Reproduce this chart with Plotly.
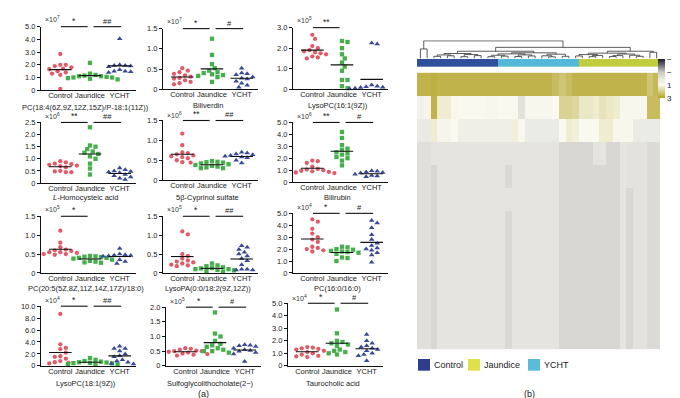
import plotly.graph_objects as go
import numpy as np

W, H = 680, 398
FONT = "Liberation Sans, Arial, sans-serif"

groups = ["Control", "Jaundice", "YCHT"]
group_colors = ["#e25a66", "#46ae4c", "#3b4a98"]
group_symbols = ["circle", "square", "triangle-up"]

titles = ["PC(18:4(6Z,9Z,12Z,15Z)/P-18:1(11Z))", "Biliverdin", "LysoPC(16:1(9Z))",
          "<i>L</i>-Homocysteic acid", "5β-Cyprinol sulfate", "Bilirubin",
          "PC(20:5(5Z,8Z,11Z,14Z,17Z)/18:0)", "LysoPA(0:0/18:2(9Z,12Z))", "PC(16:0/16:0)",
          "LysoPC(18:1(9Z))", "Sulfoglycolithocholate(2−)", "Taurocholic acid"]
exponents = [7, 7, 5, 6, 6, 6, 5, 5, 4, 4, 5, 4]
y_tops = [5.0, 1.5, 3.0, 2.5, 1.5, 5.0, 1.5, 1.5, 5.0, 10.0, 2.0, 5.0]
y_steps = [1.0, 0.5, 1.0, 0.5, 0.5, 1.0, 0.5, 0.5, 1.0, 2.0, 0.5, 1.0]
sig_cj = ["*", "*", "**", "**", "**", "**", "*", "*", "*", "*", "*", "*"]
sig_jy = ["##", "#", "", "##", "##", "#", "", "##", "#", "##", "#", "#"]

control_values = [
    [2.85, 2.0, 2.0, 1.9, 1.8, 1.7, 1.65, 1.5, 1.4, 1.3, 1.2, 0.1],
    [0.52, 0.46, 0.42, 0.38, 0.34, 0.31, 0.28, 0.26, 0.22, 0.18, 0.15, 0.12],
    [2.65, 2.45, 2.1, 2.0, 1.9, 1.85, 1.8, 1.75, 1.7, 1.6, 1.55, 1.5],
    [0.9, 0.85, 0.8, 0.78, 0.75, 0.72, 0.7, 0.65, 0.5, 0.48, 0.45, 0.45],
    [1.17, 0.88, 0.7, 0.68, 0.65, 0.62, 0.6, 0.58, 0.55, 0.5, 0.45, 0.44],
    [1.8, 1.75, 1.6, 1.3, 1.1, 1.05, 1.0, 0.95, 0.9, 0.85, 0.8, 0.75],
    [1.12, 0.8, 0.68, 0.62, 0.6, 0.58, 0.55, 0.55, 0.53, 0.5, 0.5, 0.48],
    [1.1, 1.02, 0.5, 0.45, 0.38, 0.33, 0.3, 0.28, 0.25, 0.22, 0.2, 0.18],
    [4.5, 4.3, 3.7, 3.3, 3.0, 2.8, 2.6, 2.2, 2.1, 2.0, 1.9, 1.8],
    [8.7, 3.6, 3.0, 2.8, 2.2, 1.6, 1.5, 1.2, 0.8, 0.6, 0.5, 0.4],
    [0.6, 0.58, 0.55, 0.52, 0.5, 0.5, 0.48, 0.45, 0.42, 0.4, 0.38, 0.35],
    [1.5, 1.45, 1.4, 1.35, 1.3, 1.2, 1.1, 1.0, 0.9, 0.8, 0.75, 0.7],
]
jaundice_values = [
    [2.15, 1.3, 1.2, 1.15, 1.1, 1.1, 1.05, 1.0, 1.0, 0.95, 0.9, 0.85],
    [1.25, 0.85, 0.62, 0.52, 0.46, 0.42, 0.4, 0.37, 0.35, 0.33, 0.3, 0.18],
    [2.35, 2.3, 2.0, 1.7, 1.5, 1.3, 1.1, 0.9, 0.45, 0.45, 0.15, 0.05],
    [2.3, 1.55, 1.5, 1.4, 1.3, 1.25, 1.2, 1.1, 1.0, 0.8, 0.6, 0.35],
    [0.48, 0.46, 0.45, 0.44, 0.42, 0.4, 0.38, 0.36, 0.34, 0.32, 0.3, 0.3],
    [4.2, 3.7, 3.1, 2.8, 2.7, 2.5, 2.4, 2.3, 2.1, 2.0, 1.8, 1.4],
    [0.45, 0.44, 0.43, 0.42, 0.4, 0.4, 0.38, 0.35, 0.32, 0.3, 0.28, 0.27],
    [0.25, 0.2, 0.18, 0.15, 0.13, 0.12, 0.1, 0.1, 0.08, 0.07, 0.05, 0.03],
    [2.2, 2.15, 2.0, 1.95, 1.85, 1.8, 1.75, 1.7, 1.6, 1.3, 1.25, 1.0],
    [1.3, 1.0, 0.8, 0.7, 0.6, 0.55, 0.5, 0.45, 0.4, 0.3, 0.25, 0.2],
    [1.82, 1.1, 1.0, 0.85, 0.75, 0.7, 0.65, 0.6, 0.55, 0.5, 0.5, 0.45],
    [4.5, 2.6, 2.0, 1.9, 1.8, 1.7, 1.6, 1.3, 1.2, 1.1, 1.0, 0.9],
]
ycht_values = [
    [4.05, 2.0, 1.95, 1.95, 1.9, 1.85, 1.8, 1.6, 1.5, 1.5, 1.45, 1.4],
    [0.52, 0.4, 0.38, 0.36, 0.3, 0.27, 0.25, 0.2, 0.15, 0.1, 0.05],
    [2.25, 2.2, 0.2, 0.15, 0.12, 0.1, 0.08, 0.06, 0.05, 0.03, 0.02],
    [0.62, 0.55, 0.5, 0.48, 0.46, 0.44, 0.42, 0.35, 0.3, 0.25, 0.2, 0.15],
    [0.7, 0.68, 0.66, 0.64, 0.62, 0.6, 0.6, 0.58, 0.56, 0.55, 0.5, 0.43],
    [0.95, 0.9, 0.85, 0.8, 0.75, 0.7, 0.65, 0.6, 0.55, 0.5, 0.45],
    [0.65, 0.5, 0.48, 0.47, 0.46, 0.45, 0.45, 0.44, 0.42, 0.35, 0.3, 0.25],
    [0.72, 0.68, 0.62, 0.55, 0.5, 0.45, 0.38, 0.32, 0.22, 0.1, 0.1, 0.08, 0.08],
    [4.4, 4.2, 3.8, 3.2, 2.8, 2.5, 2.3, 2.1, 2.0, 1.9, 1.7, 1.5, 0.9],
    [3.3, 2.9, 2.9, 2.5, 2.0, 1.7, 1.5, 1.0, 0.8, 0.6, 0.4, 0.3],
    [0.72, 0.7, 0.68, 0.66, 0.6, 0.55, 0.52, 0.5, 0.45, 0.4, 0.15],
    [2.5, 2.0, 1.8, 1.6, 1.5, 1.4, 1.3, 1.2, 1.0, 0.9, 0.8, 0.4],
]

# heatmap (b): 12 metabolites x 36 samples (Control 0-11, YCHT 12-23, Jaundice 24-35)
heat_values = [
    [2.6, 2.6, 2.7, 2.6, 2.6, 2.6, 2.6, 2.6, 2.6, 2.6, 2.6, 2.6, 2.6, 2.6, 2.6, 2.6, 2.6, 2.6,
     2.6, 2.6, 2.4, 2.2, 2.4, 2.6, 2.6, 2.6, 2.6, 2.6, 2.6, 2.6, 2.6, 2.6, 2.6, 2.6, 2.2, 2.5],
    [0.6, 0.8, 2.6, 1.3, 1.3, 0.9, 1.0, 1.0, 1.0, 1.0, 0.9, 0.9, 1.0, 1.0, 0.9, -0.2, 0.9, 0.9,
     0.9, 0.9, 1.0, 1.9, 1.9, 1.8, 1.4, 1.4, 1.3, 1.5, 1.4, 1.3, 0.9, 0.9, 0.9, 0.9, 2.4, 2.4],
    [0.1, 0.1, 1.3, 0.8, 0.8, 1.0, 0.4, 0.4, 0.4, 0.4, 0.4, 0.4, 0.4, 0.4, 1.2, 0.9, 0.2, 0.2,
     0.2, 0.2, 0.2, 1.0, 1.3, 1.2, 1.0, 1.0, 1.0, 1.3, 1.3, 0.9, 0.9, 0.9, 0.2, 0.2, 0.2, 0.2],
    [-0.25, -0.25, -0.1, -0.1, -0.1, -0.1, -0.1, -0.1, -0.1, -0.1, -0.1, -0.1, -0.1, -0.1, -0.1, -0.1, -0.1, -0.1,
     -0.1, -0.1, -0.1, -0.5, -0.5, -0.5, -0.5, -0.5, -0.1, -0.1, -0.5, -0.5, -0.05, -0.15, -0.15, -0.15, -0.4, -0.4],
    [-0.25, -0.25, -0.5, -0.1, -0.1, -0.1, -0.1, -0.1, -0.1, -0.1, -0.1, -0.1, -0.1, -0.45, -0.1, -0.1, -0.1, -0.1,
     -0.1, -0.1, -0.1, -0.5, -0.5, -0.5, -0.5, -0.5, -0.5, -0.5, -0.5, -0.5, -0.05, -0.15, -0.15, -0.15, -0.4, -0.4],
    [-0.25, -0.25, -0.5, -0.1, -0.1, -0.1, -0.1, -0.1, -0.1, -0.1, -0.1, -0.1, -0.1, -0.1, -0.1, -0.1, -0.1, -0.1,
     -0.1, -0.1, -0.1, -0.5, -0.5, -0.5, -0.5, -0.5, -0.5, -0.5, -0.5, -0.5, -0.05, -0.5, -0.15, -0.15, -0.4, -0.4],
    [-0.25, -0.25, -0.5, -0.1, -0.1, -0.1, -0.1, -0.1, -0.1, -0.1, -0.1, -0.1, -0.1, -0.45, -0.1, -0.1, -0.1, -0.1,
     -0.1, -0.1, -0.1, -0.5, -0.5, -0.5, -0.5, -0.5, -0.5, -0.5, -0.5, -0.5, -0.05, -0.5, -0.15, -0.15, -0.4, -0.4],
    [-0.25, -0.25, -0.5, -0.1, -0.1, -0.1, -0.1, -0.1, -0.1, -0.1, -0.1, -0.1, -0.1, -0.45, -0.1, -0.1, -0.1, -0.1,
     -0.1, -0.1, -0.1, -0.5, -0.5, -0.5, -0.5, -0.5, -0.5, -0.5, -0.5, -0.5, -0.05, -0.5, -0.15, -0.15, -0.4, -0.4],
    [-0.25, -0.25, -0.5, -0.1, -0.1, -0.1, -0.1, -0.1, -0.1, -0.1, -0.1, -0.1, -0.1, -0.45, -0.1, -0.1, -0.1, -0.1,
     -0.1, -0.1, -0.1, -0.5, -0.5, -0.5, -0.5, -0.5, -0.5, -0.5, -0.5, -0.5, -0.05, -0.5, -0.15, -0.15, -0.4, -0.4],
    [-0.25, -0.25, -0.5, -0.1, -0.1, -0.1, -0.1, -0.1, -0.1, -0.1, -0.1, -0.1, -0.1, -0.45, -0.1, -0.1, -0.1, -0.1,
     -0.1, -0.1, -0.1, -0.5, -0.5, -0.5, -0.5, -0.5, -0.5, -0.5, -0.5, -0.5, -0.05, -0.5, -0.15, -0.15, -0.4, -0.4],
    [-0.25, -0.25, -0.5, -0.1, -0.1, -0.1, -0.1, -0.1, -0.1, -0.1, -0.1, -0.1, -0.1, -0.45, -0.1, -0.1, -0.1, -0.1,
     -0.1, -0.1, -0.1, -0.5, -0.5, -0.5, -0.5, -0.5, -0.5, -0.5, -0.5, -0.5, -0.05, -0.5, -0.15, -0.15, -0.4, -0.4],
    [-0.25, -0.25, -0.5, -0.1, -0.1, -0.1, -0.1, -0.1, -0.1, -0.1, -0.1, -0.1, -0.1, -0.45, -0.1, -0.1, -0.1, -0.1,
     -0.1, -0.1, -0.1, -0.5, -0.5, -0.5, -0.5, -0.5, -0.5, -0.5, -0.5, -0.5, -0.05, -0.5, -0.15, -0.15, -0.4, -0.4],
]
sample_groups = [0] * 12 + [2] * 12 + [1] * 12   # 0 Control, 1 Jaundice, 2 YCHT
annot_colors = ["#30509c", "#bfcd3e", "#55b8d9"]
legend_colors = ["#2e3d8e", "#dde14c", "#5bbcd9"]

# dendrogram: [height, left, right], leaves are sample indices
dendro_tree = [10, [5.4, 0, 1],
               [6.3,
                [4.1,
                 [2.8, [2.0, [1.2, 2, 3], [1.5, 4, 5]], [2.2, [1.0, 6, 7], [1.6, 8, 9]]],
                 [3.2, [2.6, [1.8, [1.0, 10, 11], [1.3, 12, 13]], [2.0, [1.1, 14, 15], [1.4, 16, 17]]],
                  [2.4, [1.5, 18, [0.9, 19, 20]], [1.2, 21, 22]]]],
                [4.1,
                 [3.0, [2.2, [1.4, 23, 24], [1.7, [1.0, 25, 26], 27]],
                  [2.5, [1.6, [1.1, 28, 29], 30], [1.8, 31, [1.2, 32, 33]]]],
                 [3.5, 34, 35]]]]

# ---------- layout geometry (pixels) ----------
panels_px = [(33, 128, 15, 80), (155, 250, 17, 79), (285, 380, 16, 79),
             (33, 128, 113, 175), (155, 250, 111, 172), (285, 380, 113, 174),
             (33, 128, 209, 267), (155, 250, 209, 267), (285, 380, 206, 267),
             (33, 128, 301, 362), (158, 253, 302, 362), (280, 375, 298, 362)]
title_y_px = [98, 96, 96, 190, 190, 190, 283, 283, 283, 380, 380, 380]
mult_dy = [8, 8, 8, 7, 6, 7, 7, 7, 7, 6, 6, 5]
XMIN, XMAX = -0.65, 2.55


def px_x(p):
    return p / W


def px_y(p):
    return 1 - p / H


def swarm_offsets(vals, py, px, diam=4.6):
    vals = np.asarray(vals, dtype=float)
    order = np.argsort(-vals)
    placed = []
    offs = np.zeros(len(vals))
    step = diam * 0.6
    for i in order:
        yy = vals[i] * py
        k = 0
        while True:
            cand = 0 if k == 0 else ((k + 1) // 2) * step * (1 if k % 2 else -1)
            if all((cand - dx) ** 2 + (yy - dy) ** 2 >= diam ** 2 for dx, dy in placed):
                break
            k += 1
        placed.append((cand, yy))
        offs[i] = cand / px
    return offs


fig = go.Figure()
layout = {}
annotations = []
shapes = []
tickfont = dict(family=FONT, size=7.5, color="#222")

for k in range(12):
    n = k + 1
    xa = "x" if n == 1 else f"x{n}"
    ya = "y" if n == 1 else f"y{n}"
    L, R, T, B = panels_px[k]
    top = y_tops[k]
    py = (B - T) / top
    pxu = (R - L) / (XMAX - XMIN)
    series = [control_values[k], jaundice_values[k], ycht_values[k]]
    for g, vals in enumerate(series):
        offs = swarm_offsets(vals, py, pxu)
        fig.add_trace(go.Scatter(
            x=g + offs, y=vals, mode="markers", xaxis=xa, yaxis=ya, showlegend=False,
            cliponaxis=False,
            marker=dict(symbol=group_symbols[g], size=4.3 if g < 2 else 5,
                        color=group_colors[g], line=dict(width=0))))
        m = float(np.mean(vals))
        fig.add_trace(go.Scatter(
            x=[g - 0.38, g + 0.38], y=[m, m], mode="lines", xaxis=xa, yaxis=ya,
            showlegend=False, line=dict(color="#111", width=1.1)))
    ticks = list(np.arange(0, top + 1e-9, y_steps[k]))
    ticktext = ["0" if t == 0 else f"{t:.1f}" for t in ticks]
    layout["xaxis" if n == 1 else f"xaxis{n}"] = dict(
        domain=[px_x(L), px_x(R)], anchor=ya, range=[XMIN, XMAX],
        tickvals=[0, 1, 2], ticktext=groups, tickangle=0, showline=True, linecolor="#111",
        linewidth=1, showgrid=False, zeroline=False, ticks="", tickfont=tickfont,
        ticklabelstandoff=-2)
    layout["yaxis" if n == 1 else f"yaxis{n}"] = dict(
        domain=[px_y(B), px_y(T)], anchor=xa, range=[0, top],
        tickvals=ticks, ticktext=ticktext, showline=True, linecolor="#111",
        linewidth=1, showgrid=False, zeroline=False, ticks="outside", ticklen=3,
        tickcolor="#111", tickfont=tickfont)
    # multiplier
    annotations.append(dict(text=f"×10<sup>{exponents[k]}</sup>", xref="paper", yref="paper",
                            x=px_x(L + 2), y=px_y(T - mult_dy[k]), xanchor="left",
                            yanchor="middle", showarrow=False,
                            font=dict(family=FONT, size=7, color="#333")))
    # title
    annotations.append(dict(text=titles[k], xref="paper", yref="paper",
                            x=px_x((L + R) / 2 - 3), y=px_y(title_y_px[k]),
                            xanchor="center", yanchor="middle", showarrow=False,
                            font=dict(family=FONT, size=7.5, color="#222")))

    # significance bars
    def fx(c):
        return (c - XMIN) / (XMAX - XMIN)
    for (c0, c1, sym) in [(0.02, 0.92, sig_cj[k]), (1.12, 2.05, sig_jy[k])]:
        if not sym:
            continue
        shapes.append(dict(type="line", xref=f"{xa} domain", yref=f"{ya} domain",
                           x0=fx(c0), x1=fx(c1), y0=1.0, y1=1.0,
                           line=dict(color="#111", width=1.1)))
        annotations.append(dict(text=sym, xref=f"{xa} domain", yref=f"{ya} domain",
                                x=fx((c0 + c1) / 2), y=1.0, xanchor="center",
                                yanchor="bottom", showarrow=False, yshift=-1,
                                font=dict(family=FONT, size=7.5 if "#" in sym else 8.5,
                                          color="#222")))

# ---------- heatmap (b) ----------
HL, HR, HT, HB = 409, 652, 62, 345
n_cols = len(heat_values[0])
neg = [[-v for v in row] for row in heat_values]
fig.add_trace(go.Heatmap(
    z=neg, x=list(range(n_cols)), y=list(range(len(heat_values))),
    xaxis="x13", yaxis="y13", zmin=-3, zmax=3,
    colorscale=[[0, "#b3a223"], [0.3333, "#f9f9ef"], [0.5, "#e8e7e2"],
                [0.6667, "#c8c7c3"], [1, "#1d1a2b"]],
    colorbar=dict(x=px_x(650), xanchor="left", y=px_y(48), yanchor="top",
                  lenmode="pixels", len=39, thicknessmode="pixels", thickness=7,
                  outlinewidth=0, ticks="", tickvals=[3, 1, -1, -3],
                  ticktext=["−3", "−1", "1", "3"], xpad=0, ypad=0,
                  tickfont=dict(family=FONT, size=8, color="#222"))))
layout["xaxis13"] = dict(domain=[px_x(HL), px_x(HR)], anchor="y13", range=[-0.5, n_cols - 0.5],
                         visible=False)
layout["yaxis13"] = dict(domain=[px_y(HB), px_y(HT)], anchor="x13",
                         range=[len(heat_values) - 0.5, -0.5], visible=False)

# group annotation bar
fig.add_trace(go.Heatmap(
    z=[sample_groups], x=list(range(n_cols)), y=[0], xaxis="x14", yaxis="y14",
    zmin=-0.5, zmax=2.5, showscale=False,
    colorscale=[[0, annot_colors[0]], [0.3333, annot_colors[0]], [0.3334, annot_colors[1]],
                [0.6666, annot_colors[1]], [0.6667, annot_colors[2]], [1, annot_colors[2]]]))
layout["xaxis14"] = dict(domain=[px_x(HL), px_x(HR)], anchor="y14", range=[-0.5, n_cols - 0.5],
                         visible=False)
layout["yaxis14"] = dict(domain=[px_y(56), px_y(48)], anchor="x14", range=[-0.5, 0.5],
                         visible=False)

# dendrogram
seg_x, seg_y = [], []


def draw_node(node):
    if isinstance(node, int):
        return float(node), 0.0
    h, left, right = node
    xl, hl = draw_node(left)
    xr, hr = draw_node(right)
    seg_x.extend([xl, xl, xr, xr, None])
    seg_y.extend([hl, h, h, hr, None])
    return (xl + xr) / 2, h


draw_node(dendro_tree)
fig.add_trace(go.Scatter(x=seg_x, y=seg_y, mode="lines", xaxis="x15", yaxis="y15",
                         showlegend=False, line=dict(color="#333", width=0.8)))
layout["xaxis15"] = dict(domain=[px_x(HL), px_x(HR)], anchor="y15", range=[-0.5, n_cols - 0.5],
                         visible=False)
layout["yaxis15"] = dict(domain=[px_y(47.5), px_y(29)], anchor="x15", range=[0, 10.3],
                         visible=False)

# legend for (b)
leg_x = [410, 460, 520]
for g in range(3):
    shapes.append(dict(type="rect", xref="paper", yref="paper",
                       x0=px_x(leg_x[g]), x1=px_x(leg_x[g] + 12),
                       y0=px_y(367), y1=px_y(355), fillcolor=legend_colors[g],
                       line=dict(width=0)))
    annotations.append(dict(text=groups[g], xref="paper", yref="paper",
                            x=px_x(leg_x[g] + 14), y=px_y(361), xanchor="left",
                            yanchor="middle", showarrow=False,
                            font=dict(family=FONT, size=9, color="#222")))

annotations.append(dict(text="(a)", xref="paper", yref="paper", x=px_x(196), y=px_y(391),
                        xanchor="center", yanchor="middle", showarrow=False,
                        font=dict(family=FONT, size=9, color="#222")))
annotations.append(dict(text="(b)", xref="paper", yref="paper", x=px_x(521), y=px_y(391),
                        xanchor="center", yanchor="middle", showarrow=False,
                        font=dict(family=FONT, size=9, color="#222")))

fig.update_layout(width=W, height=H, margin=dict(l=0, r=0, t=0, b=0),
                  paper_bgcolor="white", plot_bgcolor="white",
                  font=dict(family=FONT, size=8, color="#222"),
                  annotations=annotations, shapes=shapes, showlegend=False, **layout)
fig.write_html("out.html")
